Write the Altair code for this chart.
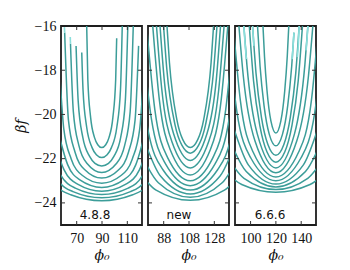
import altair as alt
import pandas as pd

PANELS = ["4.8.8", "new", "6.6.6"]
X_DOMAINS = [[57.6, 121.6], [75.6, 139.6], [87.7, 151.7]]
X_TICKS = [[70, 90, 110], [88, 108, 128], [100, 120, 140]]
Y_DOMAIN = [-25, -16]
Y_TICKS = [-24, -22, -20, -18, -16]

# curves: (phi0, beta f) points, left to right
CURVES_488 = [
    [(77.9, -16.0), (78.8, -18.43), (81.0, -20.13), (84.1, -21.05), (86.65, -21.37), (89.8, -21.5),
     (92.95, -21.37), (95.5, -21.05), (98.6, -20.13), (100.8, -18.43), (101.6, -16.55)],
    [(74.0, -17.2), (75.0, -18.88), (77.9, -20.58), (82.15, -21.5), (85.55, -21.82), (89.8, -21.95),
     (94.05, -21.82), (97.45, -21.5), (101.7, -20.58), (104.6, -18.88), (106.0, -16.0)],
    [(69.5, -16.9), (71.2, -19.41), (74.8, -21.03), (80.2, -21.9), (84.45, -22.21), (89.8, -22.33),
     (95.15, -22.21), (99.4, -21.9), (104.8, -21.03), (108.4, -19.41), (110.4, -16.0)],
    [(65.1, -16.8), (67.35, -19.87), (71.7, -21.4), (78.2, -22.22), (89.8, -22.63),
     (101.4, -22.22), (107.9, -21.4), (112.25, -19.87), (114.7, -16.0)],
    [(60.5, -16.3), (63.5, -20.27), (68.7, -21.71), (76.2, -22.49), (89.8, -22.88),
     (103.4, -22.49), (110.9, -21.71), (116.1, -20.27), (118.9, -16.9)],
    [(57.0, -18.49), (59.8, -20.65), (65.65, -22.01), (74.3, -22.75), (89.8, -23.11),
     (105.3, -22.75), (113.95, -22.01), (119.8, -20.65), (122.6, -18.49)],
    [(56.3, -21.0), (62.85, -22.27), (72.5, -22.96), (89.8, -23.3), (107.1, -22.96), (116.75, -22.27), (123.3, -21.0)],
    [(52.8, -21.32), (60.05, -22.51), (70.7, -23.15), (89.8, -23.47), (108.9, -23.15), (119.55, -22.51), (126.8, -21.32)],
    [(49.3, -21.62), (57.25, -22.73), (68.9, -23.33), (89.8, -23.62), (110.7, -23.33), (122.35, -22.73), (130.3, -21.62)],
    [(45.9, -21.85), (54.45, -22.91), (67.1, -23.49), (89.8, -23.77), (112.5, -23.49), (125.15, -22.91), (133.7, -21.85)],
    [(42.4, -22.06), (51.65, -23.08), (65.3, -23.63), (89.8, -23.9), (114.3, -23.63), (127.95, -23.08), (137.2, -22.06)],
]

CURVES_NEW = [
    [(90.6, -16.0), (92.55, -17.66), (98.4, -20.23), (103.1, -21.14), (109.0, -21.5),
     (114.9, -21.14), (119.6, -20.23), (125.45, -17.66), (127.4, -16.0)],
    [(87.9, -16.0), (90.4, -17.91), (97.0, -20.48), (102.35, -21.39), (109.0, -21.75),
     (115.65, -21.39), (121.0, -20.48), (127.6, -17.91), (130.1, -16.0)],
    [(85.1, -16.0), (88.35, -18.38), (95.7, -20.85), (109.0, -22.08), (122.3, -20.85), (129.65, -18.38), (132.9, -16.0)],
    [(82.3, -16.0), (86.46, -18.85), (94.5, -21.24), (109.0, -22.42), (123.5, -21.24), (131.54, -18.85), (135.7, -16.0)],
    [(79.35, -16.0), (84.5, -19.31), (93.25, -21.61), (109.0, -22.74), (124.75, -21.61), (133.5, -19.31), (138.65, -16.0)],
    [(74.2, -15.8), (81.0, -19.78), (91.0, -21.94), (109.0, -23.0), (127.0, -21.94), (137.0, -19.78), (143.8, -15.8)],
    [(70.7, -16.4), (78.2, -20.17), (89.2, -22.21), (109.0, -23.22), (128.8, -22.21), (139.8, -20.17), (147.3, -16.4)],
    [(67.2, -17.19), (75.4, -20.64), (87.4, -22.5), (109.0, -23.42), (130.6, -22.5), (142.6, -20.64), (150.8, -17.19)],
    [(72.6, -21.17), (85.6, -22.8), (109.0, -23.6), (132.4, -22.8), (145.4, -21.17)],
    [(69.8, -21.76), (83.8, -23.09), (109.0, -23.75), (134.2, -23.09), (148.2, -21.76)],
    [(67.0, -22.49), (82.0, -23.42), (109.0, -23.88), (136.0, -23.42), (151.0, -22.49)],
]

CURVES_666 = [
    [(109.8, -16.0), (111.0, -17.37), (113.0, -18.93), (116.1, -20.3), (120.0, -20.84),
     (123.9, -20.3), (127.0, -18.93), (129.0, -17.37), (130.2, -16.0)],
    [(105.5, -16.0), (107.5, -17.82), (110.64, -19.6), (114.8, -20.9), (120.0, -21.42),
     (125.2, -20.9), (129.36, -19.6), (132.5, -17.82), (134.3, -16.3)],
    [(101.6, -16.0), (104.3, -18.13), (108.6, -20.13), (113.7, -21.36), (120.0, -21.85),
     (126.3, -21.36), (131.4, -20.13), (135.7, -18.13), (138.4, -16.0)],
    [(99.0, -16.0), (102.36, -18.48), (107.4, -20.53), (113.0, -21.7), (120.0, -22.16),
     (127.0, -21.7), (132.6, -20.53), (137.64, -18.48), (141.0, -16.0)],
    [(94.7, -16.0), (97.1, -17.76), (105.3, -20.88), (120.0, -22.42), (134.7, -20.88), (142.9, -17.76), (145.3, -16.0)],
    [(90.8, -16.0), (94.24, -18.25), (103.44, -21.19), (120.0, -22.64), (136.56, -21.19), (145.76, -18.25), (149.2, -16.0)],
    [(85.2, -15.15), (92.0, -19.4), (102.0, -21.7), (120.0, -22.83), (138.0, -21.7), (148.0, -19.4), (154.8, -15.15)],
    [(81.7, -16.02), (89.2, -19.88), (100.2, -21.97), (120.0, -23.0), (139.8, -21.97), (150.8, -19.88), (158.3, -16.02)],
    [(86.4, -20.56), (98.4, -22.29), (120.0, -23.15), (141.6, -22.29), (153.6, -20.56)],
    [(83.6, -21.17), (96.6, -22.58), (120.0, -23.28), (143.4, -22.58), (156.4, -21.17)],
    [(80.8, -21.84), (94.8, -22.89), (120.0, -23.4), (145.2, -22.89), (159.2, -21.84)],
    [(78.0, -22.46), (93.0, -23.17), (120.0, -23.52), (147.0, -23.17), (162.0, -22.46)],
]

# pale upper ends of some arms
PALE_488 = [
    [(64.9, -16.5), (65.1, -16.8)],
    [(60.3, -16.05), (60.5, -16.3)],
]
PALE_NEW = []
PALE_666 = [
    [(94.7, -16.0), (95.8, -16.9), (96.7, -17.5)],
    [(101.6, -16.0), (102.6, -16.9)],
    [(132.9, -17.5), (133.6, -16.9), (134.3, -16.3)],
    [(137.0, -17.4), (137.8, -16.8), (138.4, -16.0)],
    [(143.9, -17.1), (144.6, -16.6), (145.3, -16.0)],
]

ALL_CURVES = [CURVES_488, CURVES_NEW, CURVES_666]
ALL_PALE = [PALE_488, PALE_NEW, PALE_666]

TEAL = "#3c9d99"
PALE = "#8adfdc"
FRAME = "#1e1e1e"
SERIF = "Liberation Serif"
W, H = 81, 199
LABEL_X = [34, 31, 35]


def to_df(curves):
    rows = []
    for c, curve in enumerate(curves):
        for k, (p, b) in enumerate(curve):
            rows.append({"curve": c, "k": k, "phi": p, "bf": b})
    return pd.DataFrame(rows, columns=["curve", "k", "phi", "bf"])


def panel(i):
    df = to_df(ALL_CURVES[i])
    xs = alt.Scale(domain=X_DOMAINS[i], nice=False, zero=False)
    ys = alt.Scale(domain=Y_DOMAIN, nice=False, zero=False)
    xaxis = alt.Axis(values=X_TICKS[i], title="ϕ₀", ticks=False, domain=False, grid=False,
                     labelPadding=6, labelFont=SERIF, labelFontSize=14, labelColor="#111",
                     labelFlush=False, labelOverlap=False,
                     titleFont="DejaVu Serif", titleFontStyle="italic", titleFontSize=14,
                     titleFontWeight="normal", titleColor="#111", titlePadding=3)
    if i == 0:
        yaxis = alt.Axis(values=Y_TICKS, title="βf", ticks=False, domain=False, grid=False,
                         labelPadding=5, labelFont=SERIF, labelFontSize=14, labelColor="#111",
                         labelFlush=False, labelOverlap=False,
                         titleFont="DejaVu Serif", titleFontStyle="italic", titleFontSize=14,
                         titleFontWeight="normal", titleColor="#111", titlePadding=6)
    else:
        yaxis = None
    layers = [
        alt.Chart(df).mark_line(interpolate="monotone", clip=True, strokeWidth=1.5, color=TEAL).encode(
            x=alt.X("phi:Q", scale=xs, axis=xaxis),
            y=alt.Y("bf:Q", scale=ys, axis=yaxis),
            detail="curve:N",
            order="k:Q",
        )
    ]
    if ALL_PALE[i]:
        layers.append(
            alt.Chart(to_df(ALL_PALE[i])).mark_line(interpolate="monotone", clip=True, strokeWidth=1.6, color=PALE).encode(
                x=alt.X("phi:Q", scale=xs, axis=xaxis),
                y=alt.Y("bf:Q", scale=ys, axis=yaxis),
                detail="curve:N",
                order="k:Q",
            )
        )
    xt = pd.DataFrame({"phi": X_TICKS[i]})
    yt = pd.DataFrame({"bf": Y_TICKS[:-1]})
    tick_style = dict(clip=True, size=8, thickness=1, color="#333", opacity=1)
    layers += [
        alt.Chart(xt).mark_tick(**tick_style).encode(x=alt.X("phi:Q", scale=xs, axis=xaxis), y=alt.value(H)),
        alt.Chart(xt).mark_tick(**tick_style).encode(x=alt.X("phi:Q", scale=xs, axis=xaxis), y=alt.value(0)),
        alt.Chart(yt).mark_tick(**tick_style).encode(y=alt.Y("bf:Q", scale=ys, axis=yaxis), x=alt.value(0)),
        alt.Chart(yt).mark_tick(**tick_style).encode(y=alt.Y("bf:Q", scale=ys, axis=yaxis), x=alt.value(W)),
        alt.Chart(pd.DataFrame({"t": [PANELS[i]]})).mark_text(
            font="DejaVu Sans", fontSize=12, align="center", baseline="alphabetic", color="#111"
        ).encode(text="t:N", x=alt.value(LABEL_X[i]), y=alt.value(193)),
    ]
    return alt.layer(*layers).properties(width=W, height=H)


chart = alt.hconcat(panel(0), panel(1), panel(2), spacing=4).properties(
    padding={"left": 5, "top": 10, "right": 5, "bottom": 5}
).configure_view(stroke=FRAME, strokeWidth=1.8)

chart.save("out.html", embed_options={"renderer": "svg", "actions": False})
